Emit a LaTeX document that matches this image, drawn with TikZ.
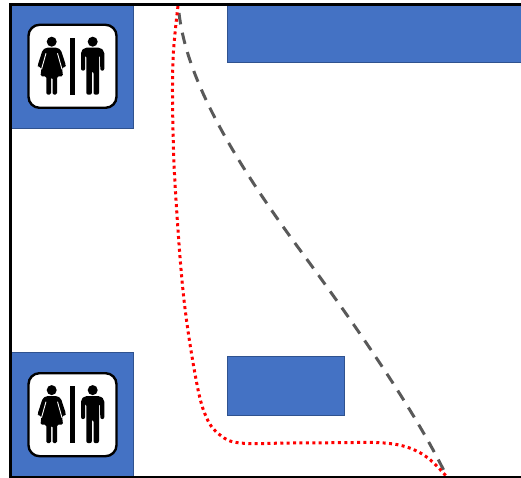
\documentclass[tikz,border=0pt]{standalone}
\usepackage{xcolor}
\definecolor{RoomFill}  {HTML}{4472C4}
\definecolor{RoomStroke}{HTML}{2F528F}
\definecolor{PathGray}  {HTML}{595959}
\definecolor{PathRed}   {HTML}{FF0000}
\tikzset{
  room/.style={
    draw=RoomStroke, fill=RoomFill, line width=0.8pt, inner sep=0pt,
    anchor=north west,
  },
  signbox/.style={
    draw=black, fill=white, rounded corners=11pt, line width=2.4pt, inner sep=0pt,
    minimum width=88pt, minimum height=83pt,
  },
  wallline/.style={draw=black, line width=2.4pt, line cap=rect},
  dashpath/.style={draw=PathGray, line width=3pt, dash pattern=on 11.5pt off 8.5pt},
  dotpath/.style={draw=PathRed, line width=3pt, dash pattern=on 3pt off 3.4pt},
  restroom/.pic={
    % woman
    \fill (-20.8,-24.6) circle (5);
    \fill[rounded corners=1.5pt] (-26.5,-18.6) -- (-15,-18.6) -- (-11.5,-16) -- (-6.6,-1) -- (-7,0.8)
      -- (-9,1) -- (-10.5,1) -- (-9.5,10) -- (-15.5,10) -- (-15.5,28.4) -- (-20,28.4) -- (-20,11)
      -- (-21.5,11) -- (-21.5,28.4) -- (-26.2,28.4) -- (-26.2,10) -- (-32,10) -- (-31,1)
      -- (-32.5,1) -- (-34.6,0.8) -- (-34.8,-1) -- (-30,-16) -- cycle;
    \draw[white, line width=0.9pt] (-26.5,-13) -- (-31,3) (-15,-13) -- (-10.5,3);
    % bar
    \fill (-2.8,-28.6) rectangle (2.5,28.4);
    % man
    \fill (20.2,-24.6) circle (5);
    \fill[rounded corners=2pt] (12,-18.6) -- (28,-18.6) -- (31.8,-15) -- (31.8,4.4) -- (27.8,4.4)
      -- (27.6,-11) -- (26.5,-11) -- (26.5,28.4) -- (21,28.4) -- (21,5) -- (19.4,5) -- (19.4,28.4)
      -- (13.8,28.4) -- (13.8,-11) -- (12.6,-11) -- (12.6,4.4) -- (8.5,4.4) -- (8.5,-15) -- cycle;
  },
}

\begin{document}
\begin{tikzpicture}[x=1pt, y=-1pt]
\useasboundingbox (0,0) rectangle (521,478);

% ── Rooms ─────────────────────────────────────────────────────────────────
\node[room, minimum width=122pt, minimum height=124pt] (ROOMTOP) at (11,4.5) {};
\node[room, minimum width=122pt, minimum height=124pt] (ROOMBOT) at (11,352.3) {};
\node[room, minimum width=295pt, minimum height=58pt] (SHELFTOP) at (227,4.5) {};
\node[room, minimum width=117pt, minimum height=59pt] (SHELFMID) at (227,356) {};

% ── Signs ─────────────────────────────────────────────────────────────────
\node[signbox] (SIGNTOP) at (72.5,66.3) {};
\node[signbox] (SIGNBOT) at (72.5,414.7) {};
\pic at (SIGNTOP) {restroom};
\pic at (SIGNBOT) {restroom};

% ── Paths ─────────────────────────────────────────────────────────────────
\coordinate (START) at (178,6);
\coordinate (DASHSTART) at (179,13);
\coordinate (DASHMID) at (300,250);
\coordinate (GOAL)  at (447,477);
\draw[dashpath] (DASHSTART) .. controls (185,65) and (215,135) .. (DASHMID)
  .. controls (350,317.6) and (415,410) .. (GOAL);
\draw[dotpath] plot[smooth, tension=0.6] coordinates {
  (START) (173,60) (173,130) (176,200) (184,300) (196.7,383) (206.7,418) (220,435)
  (240,443) (290,443) (340,442.7) (380,442.7) (406.7,447) (428,458) (GOAL)};

% ── Walls ─────────────────────────────────────────────────────────────────
\draw[wallline] (521,4.5) -- (10.5,4.5) -- (10.5,477) -- (521,477);

\end{tikzpicture}
\end{document}
